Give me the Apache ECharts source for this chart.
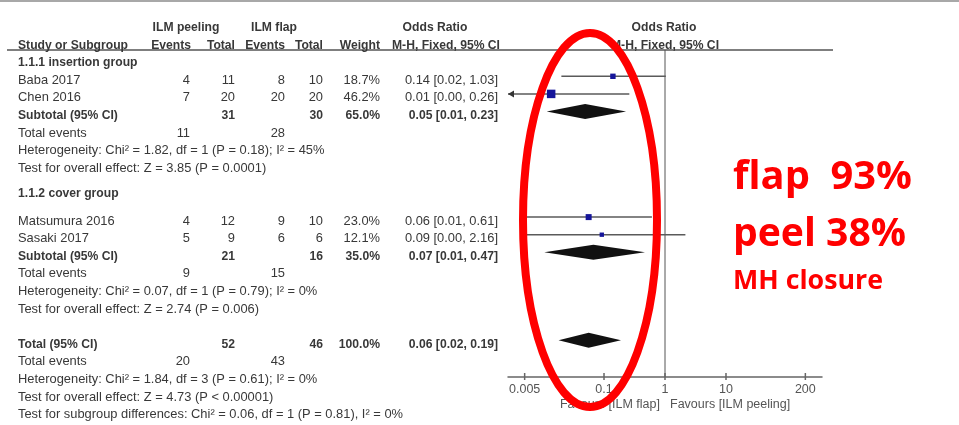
<!DOCTYPE html>
<html>
<head>
<meta charset="utf-8">
<script src="https://cdn.jsdelivr.net/npm/echarts@6/dist/echarts.min.js"></script>
<style>
  html, body { margin: 0; padding: 0; background: #fff; }
  #chart { width: 959px; height: 425px; }
</style>
</head>
<body>
<div id="chart"></div>
<script>
// ---- data ----
const studyNames = ['Baba 2017', 'Chen 2016', 'Matsumura 2016', 'Sasaki 2017']
const peelEvents = [4, 7, 4, 5]
const peelTotal = [11, 20, 12, 9]
const flapEvents = [8, 20, 9, 6]
const flapTotal = [10, 20, 10, 6]
const studyWeight = [18.7, 46.2, 23.0, 12.1]
const studyOr = [0.14, 0.0136, 0.056, 0.092]
const studyLow = [0.02, 0.0007, 0.0051, 0.0045]
const studyHigh = [1.03, 0.26, 0.61, 2.16]

const groupNames = ['1.1.1 insertion group', '1.1.2 cover group']
const groupStudies = [[0, 1], [2, 3]]
const subPeelEvents = [11, 9]
const subFlapEvents = [28, 15]
const subPeelTotal = [31, 21]
const subFlapTotal = [30, 16]
const subWeight = [65.0, 35.0]
const subOr = [0.049, 0.067]
const subLow = [0.0115, 0.0105]
const subHigh = [0.23, 0.47]
const subHet = [
  'Heterogeneity: Chi\u00b2 = 1.82, df = 1 (P = 0.18); I\u00b2 = 45%',
  'Heterogeneity: Chi\u00b2 = 0.07, df = 1 (P = 0.79); I\u00b2 = 0%'
]
const subEffect = [
  'Test for overall effect: Z = 3.85 (P = 0.0001)',
  'Test for overall effect: Z = 2.74 (P = 0.006)'
]

const totalCounts = [52, 46]
const totalEvents = [20, 43]
const totalWeight = 100.0
const totalOr = [0.056, 0.018, 0.19]
const totalNotes = [
  'Heterogeneity: Chi\u00b2 = 1.84, df = 3 (P = 0.61); I\u00b2 = 0%',
  'Test for overall effect: Z = 4.73 (P < 0.00001)',
  'Test for subgroup differences: Chi\u00b2 = 0.06, df = 1 (P = 0.81), I\u00b2 = 0%'
]

const tickValues = [0.005, 0.1, 1, 10, 200]
const tickLabels = ['0.005', '0.1', '1', '10', '200']
const favours = ['Favours [ILM flap]', 'Favours [ILM peeling]']
const notes = ['flap  93%', 'peel 38%', 'MH closure']

// ---- layout ----
const X_MIN = -2.574
const X_MAX = 2.574
const Y_MIN = -23.5 / 17.6
const Y_MAX = Y_MIN + 377 / 17.6
const HEADER_LINE_Y = 50
const TEXT_DY = 4
const COL = { name: 18, pe: 190, pt: 235, fe: 285, ft: 323, w: 380, or: 498 }
const GROUP_ROW = [2, 9.4]
const STUDY_ROW = [3, 11]
const TOTAL_ROW = 18

const REG_FONT = '13px "Liberation Sans", Arial, sans-serif'
const BOLD_FONT = 'bold 13px "Liberation Sans", Arial, sans-serif'
const AXIS_FONT = '12.5px "Liberation Sans", Arial, sans-serif'
const TEXT_COLOR = '#383838'

const measureCtx = document.createElement('canvas').getContext('2d')
function textWidth(str, font) {
  measureCtx.font = font
  return measureCtx.measureText(str).width
}
const REG_SCALE = 385 / textWidth(totalNotes[2], REG_FONT)
const BOLD_SCALE = 110 / textWidth('Study or Subgroup', BOLD_FONT)

const lg = Math.log10
const fmt = (v) => v.toFixed(2)
const orLabel = (p, l, h) => fmt(p) + ' [' + fmt(l) + ', ' + fmt(h) + ']'

// table rows: [row, [text, x, align, bold]...]
const tableRows = []
tableRows.push([0, [
  ['ILM peeling', 186, 'center', 1], ['ILM flap', 274, 'center', 1],
  ['Odds Ratio', 435, 'center', 1], ['Odds Ratio', 664, 'center', 1]
]])
tableRows.push([1, [
  ['Study or Subgroup', COL.name, 'left', 1], ['Events', 191, 'right', 1],
  ['Total', COL.pt, 'right', 1], ['Events', COL.fe, 'right', 1],
  ['Total', COL.ft, 'right', 1], ['Weight', COL.w, 'right', 1],
  ['M-H, Fixed, 95% CI', 500, 'right', 1], ['M-H, Fixed, 95% CI', 665, 'center', 1]
]])

const studyRowOf = []
groupNames.forEach((g, gi) => {
  tableRows.push([GROUP_ROW[gi], [[g, COL.name, 'left', 1]]])
  groupStudies[gi].forEach((si, k) => {
    const r = STUDY_ROW[gi] + k
    studyRowOf[si] = r
    tableRows.push([r, [
      [studyNames[si], COL.name, 'left', 0],
      [String(peelEvents[si]), COL.pe, 'right', 0],
      [String(peelTotal[si]), COL.pt, 'right', 0],
      [String(flapEvents[si]), COL.fe, 'right', 0],
      [String(flapTotal[si]), COL.ft, 'right', 0],
      [studyWeight[si].toFixed(1) + '%', COL.w, 'right', 0],
      [orLabel(studyOr[si], studyLow[si], studyHigh[si]), COL.or, 'right', 0]
    ]])
  })
  const sr = STUDY_ROW[gi] + groupStudies[gi].length
  tableRows.push([sr, [
    ['Subtotal (95% CI)', COL.name, 'left', 1],
    [String(subPeelTotal[gi]), COL.pt, 'right', 1],
    [String(subFlapTotal[gi]), COL.ft, 'right', 1],
    [subWeight[gi].toFixed(1) + '%', COL.w, 'right', 1],
    [orLabel(subOr[gi], subLow[gi], subHigh[gi]), COL.or, 'right', 1]
  ]])
  tableRows.push([sr + 1, [
    ['Total events', COL.name, 'left', 0],
    [String(subPeelEvents[gi]), COL.pe, 'right', 0],
    [String(subFlapEvents[gi]), COL.fe, 'right', 0]
  ]])
  tableRows.push([sr + 2, [[subHet[gi], COL.name, 'left', 0]]])
  tableRows.push([sr + 3, [[subEffect[gi], COL.name, 'left', 0]]])
})
tableRows.push([TOTAL_ROW, [
  ['Total (95% CI)', COL.name, 'left', 1],
  [String(totalCounts[0]), COL.pt, 'right', 1],
  [String(totalCounts[1]), COL.ft, 'right', 1],
  [totalWeight.toFixed(1) + '%', COL.w, 'right', 1],
  [orLabel(totalOr[0], totalOr[1], totalOr[2]), COL.or, 'right', 1]
]])
tableRows.push([TOTAL_ROW + 1, [
  ['Total events', COL.name, 'left', 0],
  [String(totalEvents[0]), COL.pe, 'right', 0],
  [String(totalEvents[1]), COL.fe, 'right', 0]
]])
totalNotes.forEach((t, i) => tableRows.push([TOTAL_ROW + 2 + i, [[t, COL.name, 'left', 0]]]))

// forest marks
const studyData = studyNames.map((n, i) =>
  [lg(studyOr[i]), lg(studyLow[i]), lg(studyHigh[i]), studyWeight[i], studyRowOf[i]])
const diamondData = subOr.map((v, gi) =>
  [lg(v), lg(subLow[gi]), lg(subHigh[gi]), STUDY_ROW[gi] + groupStudies[gi].length])
diamondData.push([lg(totalOr[0]), lg(totalOr[1]), lg(totalOr[2]), TOTAL_ROW])

const chart = echarts.init(document.getElementById('chart'))

function cellText(c, y) {
  return {
    type: 'text', x: c[1], y: y, scaleX: c[3] ? BOLD_SCALE : REG_SCALE,
    style: {
      text: c[0], x: 0, y: 0, align: c[2], verticalAlign: 'middle',
      font: c[3] ? BOLD_FONT : REG_FONT, fill: TEXT_COLOR
    }
  }
}

const noteFonts = ['bold 40px "Open Sans", sans-serif', 'bold 40px "Open Sans", sans-serif', 'bold 27px "Open Sans", sans-serif']
const noteWidths = [179, 173, 150]
const noteY = [178, 235, 281]

chart.setOption({
  animation: false,
  grid: { left: 508, right: 137, top: 0, bottom: 48, outerBoundsMode: 'none' },
  xAxis: {
    type: 'value', min: X_MIN, max: X_MAX,
    axisLine: { show: true, onZero: false, lineStyle: { color: '#666', width: 1.5 } },
    axisTick: { show: false }, axisLabel: { show: false }, splitLine: { show: false }
  },
  yAxis: { type: 'value', inverse: true, min: Y_MIN, max: Y_MAX, show: false },
  series: [
    {
      // table text
      type: 'custom', clip: false, silent: true,
      data: tableRows.map(row => [0, row[0]]),
      renderItem: (params, api) => {
        const row = tableRows[params.dataIndex]
        const y = api.coord([0, row[0]])[1] + TEXT_DY
        return { type: 'group', children: row[1].map(c => cellText(c, y)) }
      }
    },
    {
      // line of no effect, ticks and favours labels
      type: 'custom', clip: false, silent: true,
      data: [[0, Y_MAX]],
      renderItem: (params, api) => {
        const base = api.coord([api.value(0), api.value(1)])
        const children = [{
          type: 'line',
          shape: { x1: base[0], y1: HEADER_LINE_Y, x2: base[0], y2: base[1] },
          style: { stroke: '#555', lineWidth: 1 }
        }]
        tickValues.forEach((v, i) => {
          const p = api.coord([lg(v), Y_MAX])
          children.push({
            type: 'line', shape: { x1: p[0], y1: p[1] - 4, x2: p[0], y2: p[1] + 3 },
            style: { stroke: '#666', lineWidth: 1.5 }
          })
          children.push({
            type: 'text', x: p[0], y: p[1] + 13,
            style: { text: tickLabels[i], align: 'center', verticalAlign: 'middle', font: AXIS_FONT, fill: '#555' }
          })
        })
        children.push({
          type: 'text', x: base[0] - 5, y: base[1] + 28,
          style: { text: favours[0], align: 'right', verticalAlign: 'middle', font: AXIS_FONT, fill: '#555' }
        })
        children.push({
          type: 'text', x: base[0] + 5, y: base[1] + 28,
          style: { text: favours[1], align: 'left', verticalAlign: 'middle', font: AXIS_FONT, fill: '#555' }
        })
        return { type: 'group', children }
      }
    },
    {
      // study CIs and weighted squares
      type: 'custom', clip: false, silent: true,
      data: studyData,
      renderItem: (params, api) => {
        const r = api.value(4)
        const p = api.coord([api.value(0), r])
        const lowOff = api.value(1) < X_MIN
        const highOff = api.value(2) > X_MAX
        const xl = api.coord([lowOff ? X_MIN : api.value(1), r])[0]
        const xh = api.coord([highOff ? X_MAX : api.value(2), r])[0]
        const s = 1.25 * Math.sqrt(api.value(3))
        const children = [{
          type: 'line', shape: { x1: xl, y1: p[1], x2: xh, y2: p[1] },
          style: { stroke: '#5a5a5a', lineWidth: 1.5 }
        }]
        if (lowOff) {
          children.push({
            type: 'polygon',
            shape: { points: [[xl, p[1]], [xl + 6, p[1] - 3.5], [xl + 6, p[1] + 3.5]] },
            style: { fill: '#333' }
          })
        }
        children.push({
          type: 'rect', shape: { x: p[0] - s / 2, y: p[1] - s / 2, width: s, height: s },
          style: { fill: '#15159a' }
        })
        return { type: 'group', children }
      }
    },
    {
      // pooled diamonds
      type: 'custom', clip: false, silent: true,
      data: diamondData,
      renderItem: (params, api) => {
        const r = api.value(3)
        const c = api.coord([api.value(0), r])
        const l = api.coord([api.value(1), r])
        const h = api.coord([api.value(2), r])
        return {
          type: 'polygon',
          shape: { points: [[l[0], c[1]], [c[0], c[1] - 7.5], [h[0], c[1]], [c[0], c[1] + 7.5]] },
          style: { fill: '#111' }
        }
      }
    }
  ],
  graphic: [
    { type: 'rect', silent: true, shape: { x: 0, y: 0, width: 959, height: 2 }, style: { fill: '#a8a8a8' } },
    {
      type: 'line', silent: true,
      shape: { x1: 7, y1: HEADER_LINE_Y, x2: 833, y2: HEADER_LINE_Y },
      style: { stroke: '#555', lineWidth: 1.5 }
    },
    {
      type: 'ellipse', silent: true, z: 100,
      shape: { cx: 590, cy: 220, rx: 67, ry: 187 },
      style: { fill: 'none', stroke: '#ff0000', lineWidth: 8 }
    }
  ].concat(notes.map((t, i) => ({
    type: 'text', silent: true, z: 100, x: 733, y: noteY[i],
    scaleX: noteWidths[i] / textWidth(t, noteFonts[i]),
    style: { text: t, x: 0, y: 0, align: 'left', verticalAlign: 'middle', font: noteFonts[i], fill: '#ff0000' }
  })))
})
</script>
</body>
</html>
